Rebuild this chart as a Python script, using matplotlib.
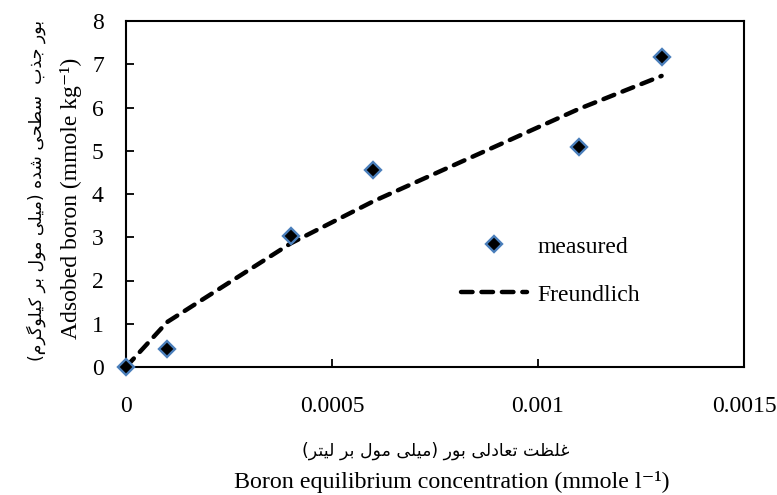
import matplotlib
matplotlib.use("Agg")
import matplotlib.pyplot as plt
from matplotlib.ticker import FixedLocator, FixedFormatter

# ---------------- data ----------------
conc = [0.0, 0.0001, 0.0004, 0.0006, 0.0011, 0.0013]
measured = [0.0, 0.42, 3.04, 4.55, 5.08, 7.17]
freundlich = [0.0, 1.04, 2.86, 3.83, 5.97, 6.73]
x_ticks = [0.0, 0.0005, 0.001, 0.0015]
x_tick_labels = ["0", "0.0005", "0.001", "0.0015"]
y_ticks = [0, 1, 2, 3, 4, 5, 6, 7, 8]
y_tick_labels = ["0", "1", "2", "3", "4", "5", "6", "7", "8"]
series_names = ["measured", "Freundlich"]
ylabel_fa = "بور جذب  سطحی شده (میلی مول بر کیلوگرم)"
ylabel_en = "Adsobed boron (mmole kg\u207b\u00b9)"
xlabel_fa = "غلظت تعادلی بور (میلی مول بر لیتر)"
xlabel_en = "Boron equilibrium concentration (mmole l\u207b\u00b9)"

# ---------------- simple Persian shaping ----------------
FORMS = {
    'ا': ('\uFE8D', '\uFE8E', None, None),
    'ب': ('\uFE8F', '\uFE90', '\uFE91', '\uFE92'),
    'ت': ('\uFE95', '\uFE96', '\uFE97', '\uFE98'),
    'ج': ('\uFE9D', '\uFE9E', '\uFE9F', '\uFEA0'),
    'ح': ('\uFEA1', '\uFEA2', '\uFEA3', '\uFEA4'),
    'د': ('\uFEA9', '\uFEAA', None, None),
    'ذ': ('\uFEAB', '\uFEAC', None, None),
    'ر': ('\uFEAD', '\uFEAE', None, None),
    'س': ('\uFEB1', '\uFEB2', '\uFEB3', '\uFEB4'),
    'ش': ('\uFEB5', '\uFEB6', '\uFEB7', '\uFEB8'),
    'ط': ('\uFEC1', '\uFEC2', '\uFEC3', '\uFEC4'),
    'ظ': ('\uFEC5', '\uFEC6', '\uFEC7', '\uFEC8'),
    'ع': ('\uFEC9', '\uFECA', '\uFECB', '\uFECC'),
    'غ': ('\uFECD', '\uFECE', '\uFECF', '\uFED0'),
    'ل': ('\uFEDD', '\uFEDE', '\uFEDF', '\uFEE0'),
    'م': ('\uFEE1', '\uFEE2', '\uFEE3', '\uFEE4'),
    'ن': ('\uFEE5', '\uFEE6', '\uFEE7', '\uFEE8'),
    'ه': ('\uFEE9', '\uFEEA', '\uFEEB', '\uFEEC'),
    'و': ('\uFEED', '\uFEEE', None, None),
    'ی': ('\uFBFC', '\uFBFD', '\uFBFE', '\uFBFF'),
    'ک': ('\uFB8E', '\uFB8F', '\uFB90', '\uFB91'),
    'گ': ('\uFB92', '\uFB93', '\uFB94', '\uFB95'),
}


def shape_fa(text):
    out = []
    n = len(text)
    for i, ch in enumerate(text):
        if ch not in FORMS:
            out.append(ch)
            continue
        iso, fin, ini, med = FORMS[ch]
        prev = text[i - 1] if i > 0 else ''
        nxt = text[i + 1] if i + 1 < n else ''
        join_prev = prev in FORMS and FORMS[prev][2] is not None
        join_next = nxt in FORMS and ini is not None
        if join_prev and join_next:
            out.append(med)
        elif join_prev:
            out.append(fin)
        elif join_next:
            out.append(ini)
        else:
            out.append(iso)
    mirror = {'(': ')', ')': '('}
    return ''.join(mirror.get(c, c) for c in reversed(out))


# ---------------- figure ----------------
plt.rcParams['font.family'] = ['Liberation Serif', 'DejaVu Sans']
FS = 17

fig = plt.figure(figsize=(7.77, 4.95), dpi=100)
ax = fig.add_axes([126 / 777, 1 - 367 / 495, 618 / 777, 346 / 495])

ax.plot(conc, freundlich, color='black', lw=3.2, linestyle=(0, (2.6, 2.0)),
        dash_capstyle='round', label=series_names[1], zorder=2)
ax.plot(conc, measured, linestyle='none', marker='D', markersize=8.5,
        markerfacecolor='black', markeredgecolor='#4a7ebb', markeredgewidth=1.7,
        label=series_names[0], zorder=3, clip_on=False)

ax.set_xlim(0, 0.0015)
ax.set_ylim(0, 8)
ax.xaxis.set_major_locator(FixedLocator(x_ticks))
ax.xaxis.set_major_formatter(FixedFormatter(x_tick_labels))
ax.yaxis.set_major_locator(FixedLocator(y_ticks))
ax.yaxis.set_major_formatter(FixedFormatter(y_tick_labels))
ax.tick_params(direction='in', length=6, width=1.3, labelsize=FS,
               top=False, right=False)
ax.tick_params(axis='x', pad=21)
ax.tick_params(axis='y', pad=16)
for s in ax.spines.values():
    s.set_linewidth(1.5)

handles, labels = ax.get_legend_handles_labels()
order = [1, 0]
leg = ax.legend([handles[i] for i in order], [labels[i] for i in order],
                loc='upper left', bbox_to_anchor=(0.542, 0.378), frameon=False,
                fontsize=FS, handlelength=2.8, handletextpad=0.45,
                labelspacing=1.12, borderpad=0, borderaxespad=0)

fa_kw = dict(family=['DejaVu Sans'], fontsize=12.5)
fig.text(436 / 777, 1 - 451 / 495, shape_fa(xlabel_fa), ha='center', va='center', **fa_kw)
fig.text(452 / 777, 1 - 488 / 495, xlabel_en, ha='center', va='baseline', fontsize=17.3)
fig.text(36 / 777, 1 - 190 / 495, shape_fa(ylabel_fa), ha='center', va='center',
         rotation=90, **fa_kw)
fig.text(71 / 777, 1 - 198 / 495, ylabel_en, ha='center', va='center',
         rotation=90, fontsize=FS)

fig.savefig('out.png', dpi=100)
